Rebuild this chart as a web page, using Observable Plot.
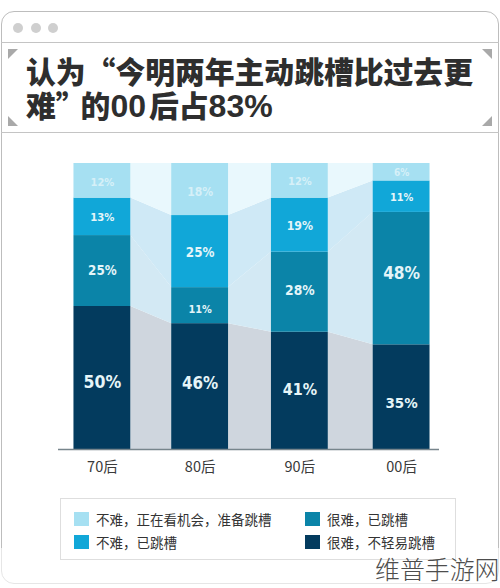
<!DOCTYPE html>
<html><head><meta charset="utf-8">
<script src="https://cdn.jsdelivr.net/npm/d3@7"></script>
<script src="https://cdn.jsdelivr.net/npm/@observablehq/plot@0.6"></script>
<style>
html,body{margin:0;padding:0;background:#fff;width:500px;height:588px;overflow:hidden;font-family:"Noto Sans CJK SC","Noto Sans",sans-serif}
#page{position:relative;width:500px;height:588px}
.abs{position:absolute}
#frame{left:1px;top:11px;width:496px;height:571px;border:1px solid #bdbdbd;border-radius:13px}
#fade{left:0;top:548px;width:500px;height:40px;background:rgba(255,255,255,.62)}
.hr{left:1px;width:498px;height:1px;background:#c4c4c4}
.dot{width:10px;height:10px;border-radius:50%;background:#cfcfcf;top:23px}
.tri{width:10px;height:10px;background:#a9a9a9}
#title{left:26px;top:53px;width:470px;font-size:29.8px;line-height:34px;font-weight:900;color:#2e2e2e;white-space:nowrap}
#title span{font-family:"Liberation Sans",sans-serif;font-weight:700;font-size:32px}
#title i{font-style:normal;margin-right:-5px}
#chart{left:0;top:133px}
#chart text{font-stretch:condensed}
#legend{left:60px;top:498px;width:394px;height:60px;border:1px solid #dedede;box-sizing:content-box}
.sw{width:15px;height:14px}
.lt{font-size:13.5px;line-height:18px;color:#333;white-space:nowrap}
#wm{left:375px;top:552px;font-size:24.9px;line-height:32px;font-weight:300;color:#4d4d4d;white-space:nowrap}
</style></head>
<body><div id="page">
<div id="frame" class="abs"></div>
<div id="fade" class="abs"></div>
<div class="abs hr" style="top:42px"></div>
<div class="abs hr" style="top:132px"></div>
<div class="abs dot" style="left:13px"></div>
<div class="abs dot" style="left:31px"></div>
<div class="abs dot" style="left:48px"></div>
<div class="abs tri" style="left:8px;top:49px;clip-path:polygon(0 0,100% 0,0 100%)"></div>
<div class="abs tri" style="left:482px;top:49px;clip-path:polygon(0 0,100% 0,100% 100%)"></div>
<div class="abs tri" style="left:8px;top:116px;clip-path:polygon(0 0,100% 100%,0 100%)"></div>
<div class="abs tri" style="left:482px;top:116px;clip-path:polygon(100% 0,100% 100%,0 100%)"></div>
<div id="title" class="abs">认为“今明两年主动跳槽比过去更<br>难<i>”</i>的<span style="margin-right:3px">00</span>后占<span>83%</span></div>
<div id="chart" class="abs"></div>
<div id="legend" class="abs"></div>
<div id="wm" class="abs">维普手游网</div>
</div>
<script>
// Data
const cohorts = ["70后", "80后", "90后", "00后"];
const categories = ["很难，不轻易跳槽", "很难，已跳槽", "不难，已跳槽", "不难，正在看机会，准备跳槽"];
// Printed labels
const labelHardStay   = [50, 46, 41, 35];
const labelHardMoved  = [25, 11, 28, 48];
const labelEasyMoved  = [13, 25, 19, 11];
const labelEasyLook   = [12, 18, 12, 6];
// Drawn segment heights (share of bar height as measured; they differ slightly from the printed labels)
const drawnHardStay   = [50, 44, 41, 36.6];
const drawnHardMoved  = [24.8, 12.6, 28, 46.3];
const drawnEasyMoved  = [13.1, 25.2, 18.9, 11];
const drawnEasyLook   = [12.1, 18.2, 12.1, 6.1];

const barColors  = ["#033b5e", "#0b84a8", "#11a7d8", "#a6e0f2"];
const gapColors  = ["#cfd6de", "#d3e9f4", "#cfe9f6", "#e9f8fd"];
const labelColors = ["#e6f5f8", "#e4f5f9", "#e4f5f9", "#d6f0f8"];

// layout of the cohort slots on the x scale, and small label offsets in px
const slot = [0, 0.98, 1.98, 3];
const halfBar = 0.285;
const labelNudge = [[3, -4, -2, 5], [-1, 3, -3, -6], [0, 0, 0, 0], [1, 2, 0, 0]];

const drawn = [drawnHardStay, drawnHardMoved, drawnEasyMoved, drawnEasyLook];
const printed = [labelHardStay, labelHardMoved, labelEasyMoved, labelEasyLook];

const segments = [];
cohorts.forEach((c, i) => {
  let base = 0;
  categories.forEach((cat, s) => {
    segments.push({cohort: c, i, s, cat, y1: base, y2: base + drawn[s][i], label: printed[s][i],
      x1: slot[i] - halfBar, x2: slot[i] + halfBar, x: slot[i]});
    base += drawn[s][i];
  });
});
const seg = (i, s) => segments.find(d => d.i === i && d.s === s);

const bands = [];
for (let i = 0; i < cohorts.length - 1; i++) {
  categories.forEach((cat, s) => {
    const a = seg(i, s), b = seg(i + 1, s);
    bands.push({z: i + "-" + s, s, x: a.x2, y1: a.y1, y2: a.y2});
    bands.push({z: i + "-" + s, s, x: b.x1, y1: b.y1, y2: b.y2});
  });
}

const labelMark = rows => Plot.text(rows, {
  x: "x", y: d => (d.y1 + d.y2) / 2, dy: 1 + labelNudge[rows[0].s][rows[0].i],
  text: d => d.label + "%",
  fill: d => labelColors[d.s],
  fontFamily: "'DejaVu Sans Condensed','DejaVu Sans',sans-serif",
  fontWeight: 700,
  fontSize: d => 9 + d.label * 0.17
});

const chart = Plot.plot({
  width: 500, height: 360,
  marginLeft: 58, marginRight: 61, marginTop: 30, marginBottom: 44,
  x: {domain: [-0.44, 3.38], axis: null},
  y: {domain: [0, 100], axis: null},
  style: {background: "transparent", overflow: "visible"},
  marks: [
    Plot.areaY(bands, {x: "x", y1: "y1", y2: "y2", z: "z", fill: d => gapColors[d.s]}),
    Plot.rect(segments, {x1: "x1", x2: "x2", y1: "y1", y2: "y2", fill: d => barColors[d.s]}),
    Plot.ruleY([0], {stroke: "#77858c", strokeWidth: 1.4}),
    ...segments.map(d => labelMark([d])),
    Plot.text(cohorts, {
      x: (d, i) => slot[i], y: 0, dy: 18,
      text: d => d,
      fill: "#3a3a3a",
      fontFamily: "'Noto Sans CJK SC',sans-serif",
      fontSize: 14.5
    })
  ]
});
document.getElementById("chart").appendChild(chart);

// Legend (two columns, top to bottom)
const legendOrder = [[3, 0, 0], [2, 0, 1], [1, 1, 0], [0, 1, 1]];
const lg = document.getElementById("legend");
legendOrder.forEach(([s, col, row]) => {
  const sw = document.createElement("div");
  sw.className = "abs sw";
  sw.style.cssText = `left:${col ? 244 : 13}px;top:${row ? 36 : 13}px;background:${barColors[s]}`;
  const t = document.createElement("div");
  t.className = "abs lt";
  t.style.cssText = `left:${col ? 266 : 35}px;top:${row ? 34 : 11}px`;
  t.textContent = categories[s];
  lg.append(sw, t);
});
</script>
</body></html>
